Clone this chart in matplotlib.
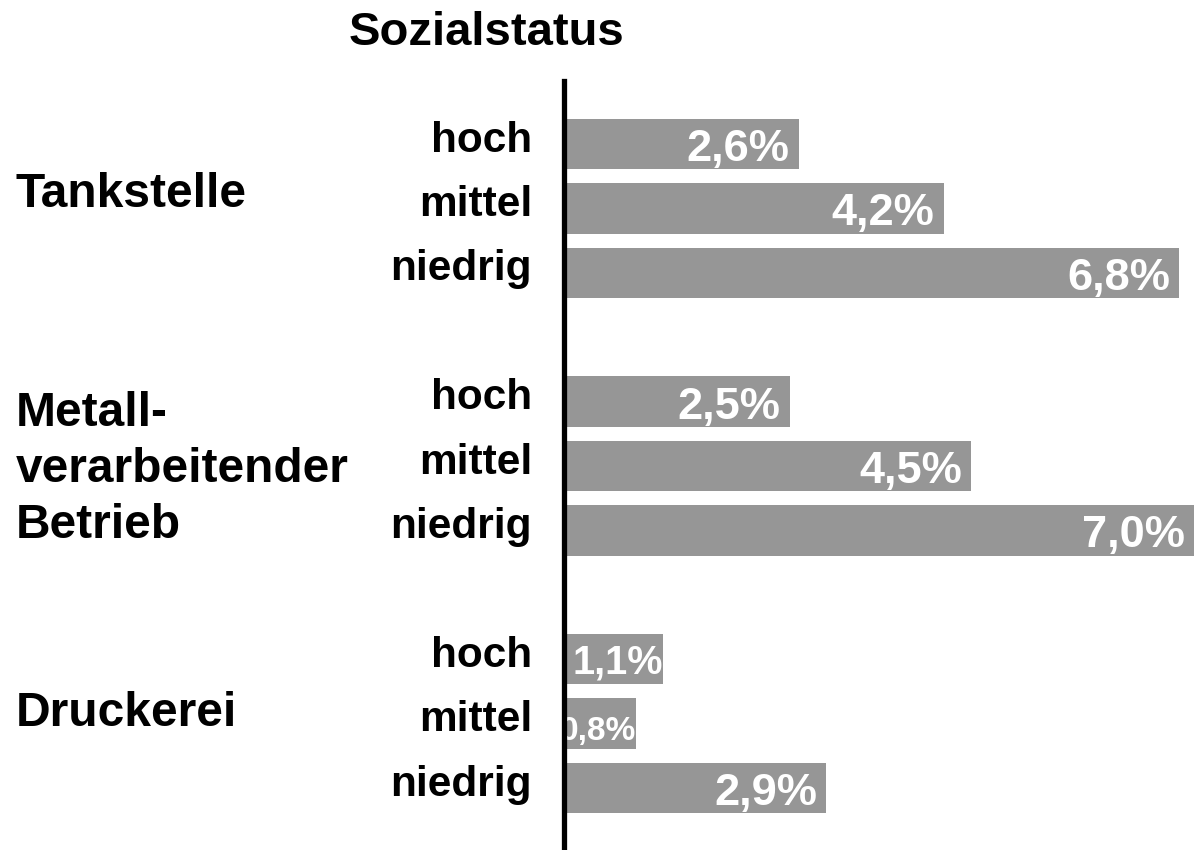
import matplotlib
matplotlib.use("Agg")
import matplotlib.pyplot as plt
import matplotlib.transforms as mtransforms

plt.rcParams['font.family'] = ['Liberation Sans', 'DejaVu Sans']
plt.rcParams['font.weight'] = 'bold'

# data
groups = ['Tankstelle', 'Metall-\nverarbeitender\nBetrieb', 'Druckerei']
levels = ['hoch', 'mittel', 'niedrig']
values = [
    [2.6, 4.2, 6.8],   # Tankstelle
    [2.5, 4.5, 7.0],   # Metallverarbeitender Betrieb
    [1.1, 0.8, 2.9],   # Druckerei
]
title = 'Sozialstatus'

BAR_COLOR = '#969696'
W, H = 1194, 850

fig = plt.figure(figsize=(W / 100, H / 100), dpi=100)
# axes spans from the vertical line to the right edge
left_px, top_px, bottom_px = 563.5, 81, 850
ax = fig.add_axes([left_px / W, 1 - bottom_px / H, 1 - left_px / W, (bottom_px - top_px) / H])

px_per_pct = 90.5
xmax = (W - left_px) / px_per_pct
ax.set_xlim(0, xmax)
pitch, first = 64.4, 144
ax.set_ylim((bottom_px - first) / pitch, (top_px - first) / pitch)

for spine in ['top', 'right', 'bottom']:
    ax.spines[spine].set_visible(False)
ax.spines['left'].set_linewidth(3.8)
ax.spines['left'].set_zorder(5)
ax.set_xticks([])
ax.set_yticks([])

fig_y = mtransforms.blended_transform_factory(fig.transFigure, ax.transData)

# shift (pixels, screen up) of the last baseline of group labels vs. the middle bar
group_dy = [1, -72, -2]

for g, (grp, vals) in enumerate(zip(groups, values)):
    pos = [g * 4 + s for s in range(len(levels))]
    ax.barh(pos, vals, height=0.78, color=BAR_COLOR, left=0)
    for p, v, lev in zip(pos, vals, levels):
        ax.annotate(lev, xy=(532 / W, p), xycoords=fig_y, xytext=(0, -7.5),
                    textcoords='offset pixels', ha='right', va='baseline',
                    fontsize=30.5, fontweight='bold')
        lbl = f"{v:.1f}".replace('.', ',') + '%'
        # short bars get a smaller label squeezed against the bar end
        if v < 1.0:
            fs, dx, dy = 24, 0, -16
        elif v < 1.5:
            fs, dx, dy = 28.5, 0, -14
        else:
            fs, dx, dy = 32.5, -9, -17
        ax.annotate(lbl, xy=(min(v, xmax), p), xytext=(dx, dy),
                    textcoords='offset pixels', ha='right', va='baseline',
                    color='white', fontsize=fs, fontweight='bold',
                    annotation_clip=False, clip_on=True)
    ax.annotate(grp, xy=(16 / W, pos[1]), xycoords=fig_y, xytext=(0, group_dy[g]),
                textcoords='offset pixels', ha='left', va='baseline',
                fontsize=34.5, fontweight='bold', multialignment='left',
                linespacing=1.31)

fig.text(487 / W, 1 - 45 / H, title, ha='center', va='baseline',
         fontsize=34, fontweight='bold')

fig.savefig('out.png', dpi=100)
